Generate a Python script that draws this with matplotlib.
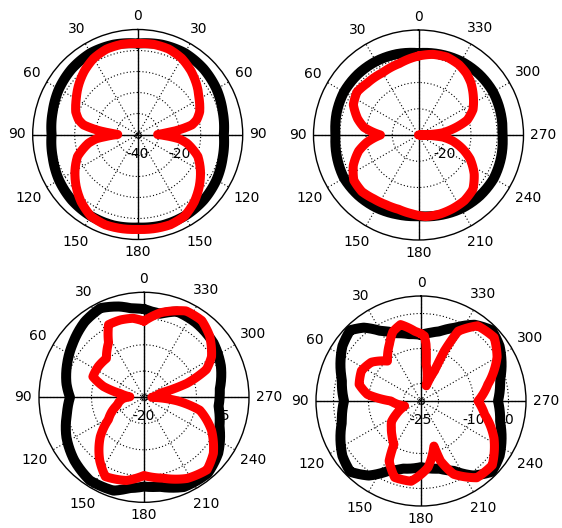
import numpy as np
import matplotlib.pyplot as plt

# angles in degrees, counter-clockwise from the top; gains in dB

# (a) top-left
a_black_ang = [0, 15, 30, 45, 60, 75, 90, 105, 120, 135, 150, 165, 180,
               195, 210, 225, 240, 255, 270, 285, 300, 315, 330, 345, 360]
a_black_db = [3.3, 4.3, 4.8, 4.3, 3.3, 1.9, 1.0, 1.9, 3.3, 4.3, 4.8, 4.8, 4.3,
              4.8, 4.8, 4.3, 3.3, 1.9, 1.0, 1.9, 3.3, 4.3, 4.8, 4.3, 3.3]
a_red_ang = [0, 10, 20, 30, 40, 50, 60, 70, 76, 80, 84, 87, 90, 93, 96, 100,
             105, 110, 120, 130, 140, 150, 160, 170, 180, 190, 200, 210, 220,
             230, 240, 250, 255, 260, 264, 267, 270, 273, 276, 280, 284, 290,
             300, 310, 320, 330, 340, 350, 360]
a_red_db = [3.3, 3.6, 3.3, 1.9, -0.5, -3.3, -6.2, -8.6, -11, -13.8, -21, -27,
            -30.5, -25.7, -20, -16.2, -12.9, -9.5, -5.5, -1.7, 1.9, 4.8, 5.7,
            5.5, 5.2, 5.5, 5.7, 4.8, 1.9, -1.7, -5.5, -9.5, -12.9, -16.2, -20,
            -25.7, -30.5, -27, -21, -13.8, -11, -8.6, -6.2, -3.3, -0.5, 1.9,
            3.3, 3.6, 3.3]

# (b) top-right
b_black_ang = [0, 15, 30, 45, 60, 75, 90, 105, 120, 135, 150, 165, 180, 195,
               210, 225, 240, 255, 270, 285, 300, 315, 330, 345, 360]
b_black_db = [1.2, 1.9, 2.4, 2.7, 2.8, 2.3, 1.6, 2.2, 2.8, 2.5, 2.0, 1.3, 0.9,
              1.6, 2.4, 2.9, 3.1, 2.6, 2.0, 2.4, 2.8, 2.7, 2.4, 1.8, 1.2]
b_red_ang = [0, 15, 30, 45, 55, 65, 75, 82, 90, 98, 105, 115, 125, 135, 145,
             155, 165, 175, 185, 195, 205, 215, 225, 235, 245, 252, 260, 265,
             270, 275, 280, 287, 295, 305, 315, 322, 330, 340, 350, 360]
b_red_db = [0.1, -1.8, -2.6, -2.2, -1.4, -2.6, -6, -9, -15.5, -10.2, -6.4,
            -2.6, 0.1, 0.5, -0.3, -0.7, -0.7, 0.1, 1.2, 1.2, 0.9, 0.5, -0.7,
            -4.1, -8.3, -12.1, -16.7, -20.5, -30, -20.9, -16.7, -10.6, -7.1,
            -4.5, -1.8, -0.3, 0.9, 1.6, 1.2, 0.1]

# (c) bottom-left
c_black_ang = [0, 8, 15, 26, 38, 53, 66, 80, 90, 102, 117, 132, 147, 162, 171,
               180, 190, 204, 220, 233, 249, 263, 276, 292, 308, 325, 339, 349,
               355, 360]
c_black_db = [-3.2, -2.9, -2.1, -1.1, -1.7, -3.0, -4.0, -5.0, -5.9, -5.0, -3.4,
              -2.1, -1.1, -1.3, -2.5, -3.0, -2.7, -1.3, -1.1, -2.3, -4.6, -5.7,
              -5.5, -4.2, -3.2, -2.7, -2.5, -3.8, -3.6, -3.2]
c_red_ang = [0, 8, 17, 26, 33, 44, 56, 68, 75, 81, 88, 93, 100, 106, 114, 122,
             132, 145, 154, 168, 180, 193, 208, 221, 231, 244, 257, 264, 270,
             284, 288, 294, 301, 313, 323, 334, 349, 360]
c_red_db = [-5.5, -4.8, -4.6, -4.6, -7.6, -9.7, -9.5, -9.5, -12, -15.4, -17.3,
            -16, -15.2, -14.7, -13.3, -12, -8.8, -5.3, -3.2, -3.8, -5.1, -4.2,
            -2.5, -1.7, -3, -5.7, -9.1, -13.7, -18.5, -16.8, -11.4, -7, -5,
            -2.9, -1.7, -1.7, -3.6, -5.5]

# (d) bottom-right
d_black_ang = [0, 10, 20, 30, 38, 45, 55, 65, 75, 90, 105, 115, 125, 135, 145,
               155, 165, 180, 195, 205, 215, 225, 235, 245, 255, 270, 285, 295,
               305, 315, 325, 335, 345, 352, 360]
d_black_db = [-6.1, -5.6, -4.4, -1.9, 1.6, 3.6, 2.4, 0.4, -1.6, -3.0, -1.6,
              0.4, 2.4, 3.6, 1.0, -3.0, -5.0, -6.1, -5.0, -3.0, 1.0, 3.6, 2.4,
              0.4, -1.6, -3.0, -1.6, 0.4, 2.4, 3.6, 1.6, -1.9, -4.4, -5.3, -6.1]
d_red_ang = [0, 5, 15, 22, 29, 40, 52, 63, 75, 83, 90, 100, 107, 118, 125, 132,
             140, 148, 152, 161, 173, 186, 196, 198, 204, 216, 228, 243, 258,
             270, 284, 300, 311, 323, 332, 335, 336, 341, 352, 355, 357, 360]
d_red_db = [-5.8, -5, -2.4, -3.6, -6.4, -10.1, -7, -5.9, -6.7, -9.6, -16.4,
            -18.7, -20.1, -17, -14.7, -13.6, -12.1, -10.4, -5.6, -1.9, -1.9,
            -5.9, -11.6, -7, -2.1, 2.1, 2.4, -1.6, -6.4, -8.7, -5.3, 0.1, 2.7,
            1.9, -2.4, -9.3, -15.6, -20.4, -14.4, -8.7, -6.4, -5.8]

labels_sym = ['0', '30', '60', '90', '120', '150', '180', '150', '120', '90',
              '60', '30']
labels_full = ['0', '30', '60', '90', '120', '150', '180', '210', '240', '270',
               '300', '330']

panels = [
    dict(center=(137.7, 134.5), rlim=(-40, 10), rings=[-30, -20, -10, 0],
         rlabels=[-40, -20], tlabels=labels_sym,
         black=(a_black_ang, a_black_db), red=(a_red_ang, a_red_db)),
    dict(center=(418.5, 135.0), rlim=(-30, 10), rings=[-20, -10, 0],
         rlabels=[-20], tlabels=labels_full,
         black=(b_black_ang, b_black_db), red=(b_red_ang, b_red_db)),
    dict(center=(144.0, 397.3), rlim=(-20, 0), rings=[-15, -10, -5],
         rlabels=[-20, -5], tlabels=labels_full,
         black=(c_black_ang, c_black_db), red=(c_red_ang, c_red_db)),
    dict(center=(421.0, 401.0), rlim=(-25, 5), rings=[-20, -10, 0],
         rlabels=[-25, -10, 0], tlabels=labels_full,
         black=(d_black_ang, d_black_db), red=(d_red_ang, d_red_db)),
]

W, H = 562, 528
R = 105
fig = plt.figure(figsize=(W / 100, H / 100), dpi=100)
fs = 10


def pattern(ax, ang, db, color, lw, z):
    line, = ax.plot(np.deg2rad(ang), db, color=color, lw=lw,
                    solid_joinstyle='round', solid_capstyle='round', zorder=z)
    # let the polar transform follow arcs between the points
    line.get_path()._interpolation_steps = 40
    return line


for p in panels:
    cx, cy = p['center']
    ax = fig.add_axes([(cx - R) / W, (H - cy - R) / H, 2 * R / W, 2 * R / H],
                      projection='polar')
    ax.set_theta_zero_location('N')
    ax.set_theta_direction(1)
    rmin, rmax = p['rlim']
    ax.set_ylim(rmin, rmax)
    ax.set_rgrids(p['rings'], labels=[''] * len(p['rings']))
    ax.set_thetagrids(range(0, 360, 30), labels=[''] * 12)
    ax.grid(True, color='black', linestyle=(0, (1, 2)), linewidth=0.8)
    ax.spines['polar'].set_linewidth(1.0)
    ax.tick_params(pad=0, length=0)

    for t in [0, 90, 180, 270]:
        ax.plot([np.deg2rad(t)] * 2, [rmin, rmax], color='black', lw=1.0,
                zorder=2)
    ax.plot([0], [rmin], marker='o', ms=4, mfc='none', mec='black', mew=0.8,
            zorder=2)

    pattern(ax, *p['black'], 'black', 7.2, 4)
    pattern(ax, *p['red'], '#ff0000', 6.5, 5)

    # theta labels outside the circle
    for k, lab in enumerate(p['tlabels']):
        th = np.deg2rad(30 * k)
        rpx = R + 7 + abs(np.sin(th)) * len(lab) * 4.3 + abs(np.cos(th)) * 6
        rl = rpx / (2 * R)
        ax.text(0.5 - rl * np.sin(th), 0.5 + rl * np.cos(th), lab,
                transform=ax.transAxes, ha='center', va='center',
                fontsize=fs, clip_on=False)

    # radial labels just below the horizontal axis, right side
    for v in p['rlabels']:
        x = 0.5 + 0.5 * (v - rmin) / (rmax - rmin)
        ax.text(x, 0.5 - 19 / (2 * R), str(v), transform=ax.transAxes,
                ha='center', va='center', fontsize=fs, zorder=3)

fig.savefig('out.png', dpi=100)
